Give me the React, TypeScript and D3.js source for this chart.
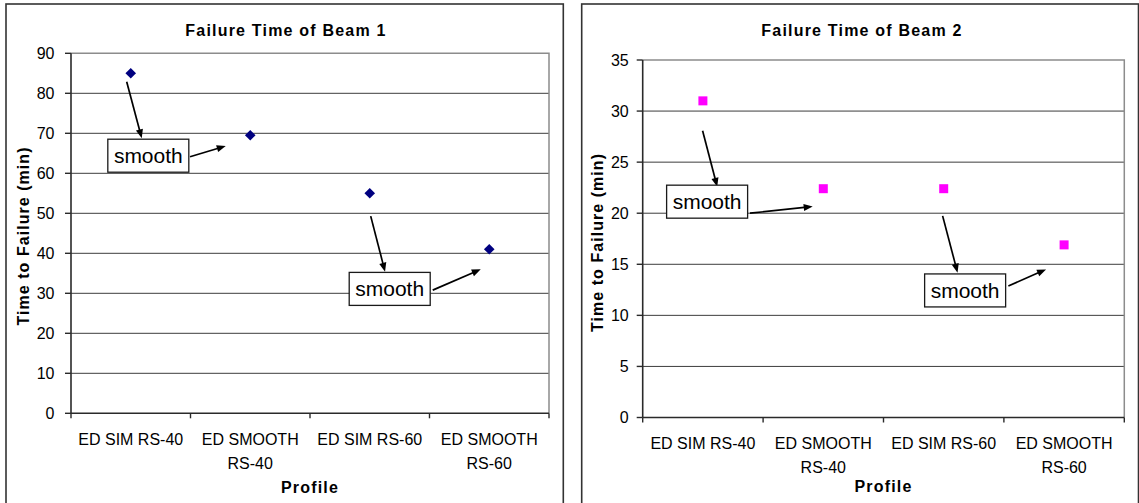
import React from "react";
import * as d3 from "d3";

// Category labels (each entry is the list of lines under one tick)
const profiles: string[][] = [
  ["ED SIM RS-40"],
  ["ED SMOOTH", "RS-40"],
  ["ED SIM RS-60"],
  ["ED SMOOTH", "RS-60"],
];

// Time to failure in minutes per profile
const beam1Minutes = [85, 69.5, 55, 41];
const beam2Minutes = [31, 22.4, 22.4, 16.9];

// Y-axis tick values
const beam1Ticks = [0, 10, 20, 30, 40, 50, 60, 70, 80, 90];
const beam2Ticks = [0, 5, 10, 15, 20, 25, 30, 35];

// "smooth" callouts in data space: x as fractional category index, y in minutes
const beam1Boxes = [
  { idx: 0.147, v: 64.4 },
  { idx: 2.167, v: 31.1 },
];
const beam1Arrows = [
  { from: [-0.034, 82.9], to: [0.092, 68.75] },
  { from: [0.496, 64.15], to: [0.795, 66.8] },
  { from: [2.008, 49.3], to: [2.128, 35.4] },
  { from: [2.527, 30.8], to: [2.929, 36.0] },
];
const beam2Boxes = [
  { idx: 0.035, v: 21.13 },
  { idx: 2.178, v: 12.44 },
];
const beam2Arrows = [
  { from: [-0.0025, 28.08], to: [0.119, 22.58] },
  { from: [0.391, 20.0], to: [0.912, 20.65] },
  { from: [1.991, 19.74], to: [2.115, 14.18] },
  { from: [2.537, 12.88], to: [2.85, 14.5] },
];

const FONT = '"Liberation Sans", Arial, Helvetica, sans-serif';

type Cfg = {
  title: string;
  values: number[];
  ticks: number[];
  yMax: number;
  marker: "diamond" | "square";
  color: string;
  boxes: { idx: number; v: number }[];
  arrows: { from: number[]; to: number[] }[];
  frame: { x: number; w: number };
  plot: { l: number; r: number; t: number; b: number };
  titleX: number;
  yTitleX: number;
  yTitleY: number;
  labelGap: number;
  catBase: number;
  catLine2: number;
  profileY: number;
};

function arrowHead(x1: number, y1: number, x2: number, y2: number) {
  const a = Math.atan2(y2 - y1, x2 - x1);
  const len = 9;
  const hw = 3.6;
  const bx = x2 - len * Math.cos(a);
  const by = y2 - len * Math.sin(a);
  const px = -Math.sin(a) * hw;
  const py = Math.cos(a) * hw;
  return `M${x2},${y2}L${bx + px},${by + py}L${bx - px},${by - py}Z`;
}

function Chart({ c }: { c: Cfg }) {
  const { l, r, t, b } = c.plot;
  const x = d3
    .scaleBand<number>()
    .domain(d3.range(c.values.length))
    .range([l, r]);
  const xi = d3.scaleLinear().domain([-0.5, c.values.length - 0.5]).range([l, r]);
  const y = d3.scaleLinear().domain([0, c.yMax]).range([b, t]);
  const cx = (i: number) => (x(i) as number) + x.bandwidth() / 2;

  const symbolPath =
    c.marker === "diamond"
      ? d3.symbol().type(d3.symbolSquare).size(56)()
      : d3.symbol().type(d3.symbolSquare).size(81)();

  const boundaries = d3.range(c.values.length + 1).map((i) => xi(i - 0.5));

  return (
    <g>
      {/* chart frame */}
      <rect
        x={c.frame.x}
        y={4}
        width={c.frame.w}
        height={520}
        fill="#fff"
        stroke="#333"
        strokeWidth={1.6}
      />
      <text
        x={c.titleX}
        y={35.7}
        textAnchor="middle"
        fontFamily={FONT}
        fontWeight="bold"
        fontSize={16}
        letterSpacing={1.2}
        fill="#000"
      >
        {c.title}
      </text>

      {/* gridlines */}
      {c.ticks
        .filter((v) => v > 0 && v < c.yMax)
        .map((v) => (
          <line key={v} x1={l} x2={r} y1={y(v)} y2={y(v)} stroke="#3c3c3c" strokeWidth={1} />
        ))}
      {/* plot border (top and right) */}
      <path d={`M${l},${y(c.yMax)}H${r}V${b}`} fill="none" stroke="#8c8c8c" strokeWidth={1.5} />

      {/* axes */}
      <line x1={l} x2={l} y1={t} y2={b} stroke="#2a2a2a" strokeWidth={1.6} />
      <line x1={l} x2={r} y1={b} y2={b} stroke="#2a2a2a" strokeWidth={1.6} />
      {c.ticks.map((v) => (
        <g key={v}>
          <line x1={l - 6} x2={l} y1={y(v)} y2={y(v)} stroke="#2a2a2a" strokeWidth={1.4} />
          <text
            x={l - c.labelGap}
            y={y(v) + 5.7}
            textAnchor="end"
            fontFamily={FONT}
            fontSize={16}
            fill="#000"
          >
            {v}
          </text>
        </g>
      ))}
      {boundaries.map((bx, i) => (
        <line key={i} x1={bx} x2={bx} y1={b} y2={b + 5} stroke="#2a2a2a" strokeWidth={1.4} />
      ))}
      {profiles.map((lines, i) => (
        <text
          key={i}
          x={cx(i)}
          y={c.catBase}
          textAnchor="middle"
          fontFamily={FONT}
          fontSize={16}
          fill="#000"
        >
          {lines.map((s, k) => (
            <tspan key={k} x={cx(i)} y={k === 0 ? c.catBase : c.catLine2}>
              {s}
            </tspan>
          ))}
        </text>
      ))}
      <text
        x={(l + r) / 2}
        y={c.profileY}
        textAnchor="middle"
        fontFamily={FONT}
        fontWeight="bold"
        fontSize={16}
        letterSpacing={1.2}
        fill="#000"
      >
        Profile
      </text>
      <text
        transform={`translate(${c.yTitleX},${c.yTitleY}) rotate(-90)`}
        textAnchor="middle"
        fontFamily={FONT}
        fontWeight="bold"
        fontSize={16}
        letterSpacing={1.05}
        fill="#000"
      >
        Time to Failure (min)
      </text>

      {/* data markers */}
      {c.values.map((v, i) => (
        <path
          key={i}
          d={symbolPath as string}
          transform={`translate(${cx(i)},${y(v)})${c.marker === "diamond" ? " rotate(45)" : ""}`}
          fill={c.color}
        />
      ))}

      {/* callout arrows */}
      {c.arrows.map((a, i) => {
        const x1 = xi(a.from[0]);
        const y1 = y(a.from[1]);
        const x2 = xi(a.to[0]);
        const y2 = y(a.to[1]);
        const ang = Math.atan2(y2 - y1, x2 - x1);
        return (
          <g key={i}>
            <line
              x1={x1}
              y1={y1}
              x2={x2 - 6 * Math.cos(ang)}
              y2={y2 - 6 * Math.sin(ang)}
              stroke="#000"
              strokeWidth={1.7}
            />
            <path d={arrowHead(x1, y1, x2, y2)} fill="#000" />
          </g>
        );
      })}
      {/* callout boxes */}
      {c.boxes.map((bx, i) => {
        const px = xi(bx.idx);
        const py = y(bx.v);
        return (
          <g key={i}>
            <rect
              x={px - 40.5}
              y={py - 16.5}
              width={81}
              height={33}
              fill="#fff"
              stroke="#1a1a1a"
              strokeWidth={1.3}
            />
            <text
              x={px}
              y={py + 7.5}
              textAnchor="middle"
              fontFamily={FONT}
              fontSize={21}
              fill="#000"
            >
              smooth
            </text>
          </g>
        );
      })}
    </g>
  );
}

const beam1: Cfg = {
  title: "Failure Time of Beam 1",
  values: beam1Minutes,
  ticks: beam1Ticks,
  yMax: 90,
  marker: "diamond",
  color: "#000080",
  boxes: beam1Boxes,
  arrows: beam1Arrows,
  frame: { x: 6, w: 557.3 },
  plot: { l: 71, r: 549, t: 53.3, b: 413.3 },
  titleX: 286,
  yTitleX: 28.5,
  yTitleY: 236,
  labelGap: 16.5,
  catBase: 445,
  catLine2: 468.5,
  profileY: 492.7,
};

const beam2: Cfg = {
  title: "Failure Time of Beam 2",
  values: beam2Minutes,
  ticks: beam2Ticks,
  yMax: 35,
  marker: "square",
  color: "#ff00ff",
  boxes: beam2Boxes,
  arrows: beam2Arrows,
  frame: { x: 581.7, w: 556.8 },
  plot: { l: 642.7, r: 1124.3, t: 60, b: 417.5 },
  titleX: 862,
  yTitleX: 603,
  yTitleY: 242.5,
  labelGap: 14,
  catBase: 449,
  catLine2: 473.3,
  profileY: 491.7,
};

export default function App() {
  return (
    <svg
      width={1139}
      height={503}
      viewBox="0 0 1139 503"
      style={{ position: "absolute", left: 0, top: 0, display: "block", background: "#fff" }}
    >
      <rect width={1139} height={503} fill="#fff" />
      <Chart c={beam1} />
      <Chart c={beam2} />
    </svg>
  );
}
